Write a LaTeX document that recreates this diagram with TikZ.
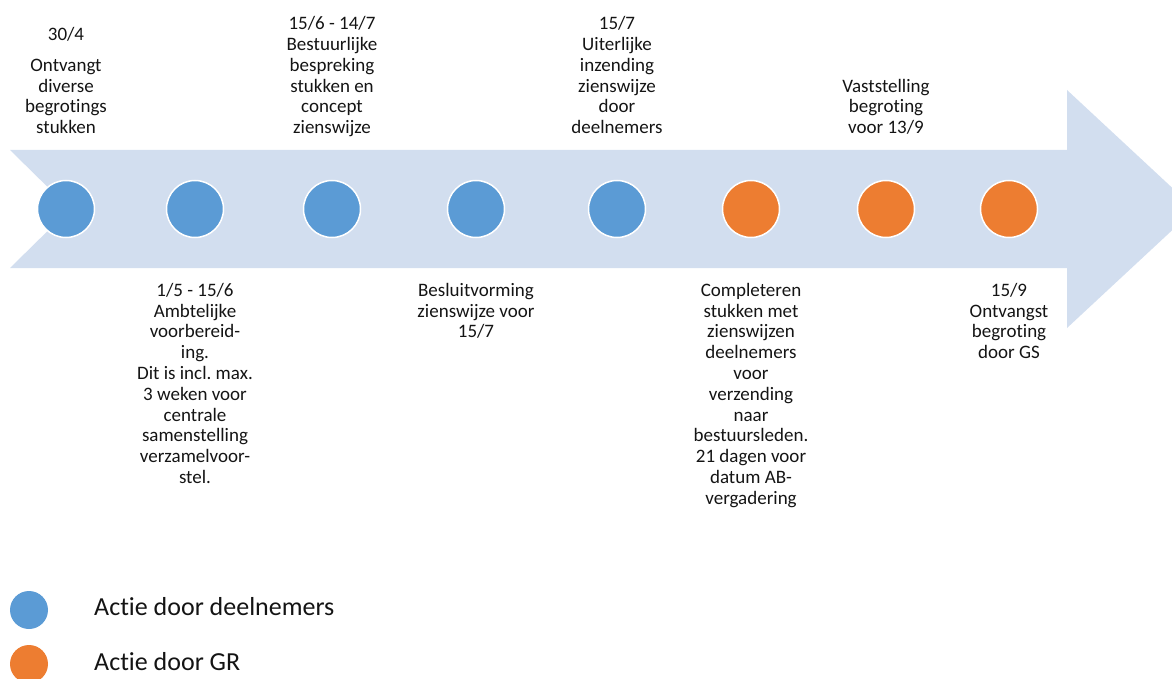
\documentclass[tikz,border=0pt]{standalone}
\usepackage{fontspec}
\setmainfont{Carlito}[Ligatures=NoCommon]
\frenchspacing
\definecolor{arrowfill}{RGB}{210,222,239}
\definecolor{dotblue}{RGB}{91,155,213}
\definecolor{dotorange}{RGB}{237,125,49}
\definecolor{txt}{RGB}{20,20,20}
\newcommand\hst{\rule{0pt}{15pt}}
\newcommand\dst{\rule[-5pt]{0pt}{5pt}}
\begin{document}
\begin{tikzpicture}[x=1pt,y=-1pt,
  dot/.style={circle,draw=white,line width=1.5pt,minimum size=57pt,inner sep=0pt},
  blue dot/.style={dot,fill=dotblue},
  orange dot/.style={dot,fill=dotorange},
  legdot/.style={circle,minimum size=38pt,inner sep=0pt},
  lbl/.style={align=center,inner sep=0pt,text=txt,font=\fontsize{19}{20.8}\selectfont},
  toplbl/.style={lbl,anchor=south},
  botlbl/.style={lbl,anchor=north},
  legtxt/.style={anchor=base west,inner sep=0pt,text=txt,font=\fontsize{26}{30}\selectfont}]
\useasboundingbox (0,0) rectangle (1172,679);
% big arrow
\fill[arrowfill] (10,150) -- (1067,150) -- (1067,90) -- (1195,209) -- (1067,328)
  -- (1067,268) -- (10,268) -- (70,209) -- cycle;
% dots
\node[blue dot] (d1) at (66,209) {};
\node[blue dot] (d2) at (195,209) {};
\node[blue dot] (d3) at (332,209) {};
\node[blue dot] (d4) at (476,209) {};
\node[blue dot] (d5) at (617,209) {};
\node[orange dot] (d6) at (751,209) {};
\node[orange dot] (d7) at (886,209) {};
\node[orange dot] (d8) at (1009,209) {};
% top labels
\node[toplbl] (t1) at (66,139) {30/4\\[10.4pt]Ontvangt\\diverse\\begrotings\\stukken\dst};
\node[toplbl] (t3) at (332,139) {15/6 - 14/7\\Bestuurlijke\\bespreking\\stukken en\\concept\\zienswijze\dst};
\node[toplbl] (t5) at (617,139) {15/7\\Uiterlijke\\inzending\\zienswijze\\door\\deelnemers\dst};
\node[toplbl] (t7) at (886,139) {Vaststelling\\begroting\\voor 13/9\dst};
% bottom labels
\node[botlbl] (b2) at (195,281) {\hst 1/5 - 15/6\\Ambtelijke\\voorbereid-\\ing.\\Dit is incl. max.\\3 weken voor\\centrale\\samenstelling\\verzamelvoor-\\stel.};
\node[botlbl] (b4) at (476,281) {\hst Besluitvorming\\zienswijze voor\\15/7};
\node[botlbl] (b6) at (751,281) {\hst Completeren\\stukken met\\zienswijzen\\deelnemers\\voor\\verzending\\naar\\bestuursleden.\\21 dagen voor\\datum AB-\\vergadering};
\node[botlbl] (b8) at (1009,281) {\hst 15/9\\Ontvangst\\begroting\\door GS};
% legend
\node[legdot,fill=dotblue] (l1) at (29,610) {};
\node[legdot,fill=dotorange] (l2) at (29,664) {};
\node[legtxt] (lt1) at (94,615) {Actie door deelnemers};
\node[legtxt] (lt2) at (94,670) {Actie door GR};
\end{tikzpicture}
\end{document}
